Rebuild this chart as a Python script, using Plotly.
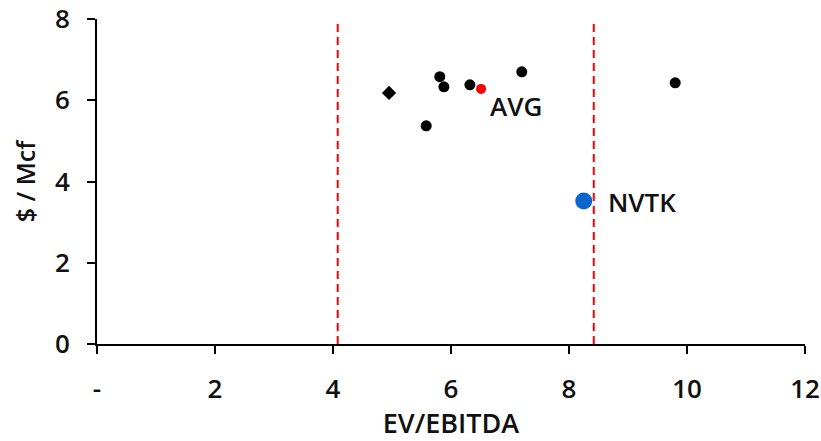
import plotly.graph_objects as go

# Peer companies (EV/EBITDA, $/Mcf)
peer_x = [5.81, 5.88, 5.58, 6.32, 7.20, 9.80]
peer_y = [6.58, 6.33, 5.37, 6.38, 6.70, 6.43]
diamond_x = [4.95]
diamond_y = [6.18]
avg_x = [6.51]
avg_y = [6.28]
nvtk_x = [8.25]
nvtk_y = [3.52]
ref_lines = [4.08, 8.42]
x_ticks = [0, 2, 4, 6, 8, 10, 12]
x_tick_labels = ["-", "2", "4", "6", "8", "10", "12"]
y_ticks = [0, 2, 4, 6, 8]

FONT = "Open Sans"
TXT = "#111111"
W = 600
fig = go.Figure()

for xv in ref_lines:
    fig.add_trace(go.Scatter(x=[xv, xv], y=[0, 8], mode="lines",
                             line=dict(color="#ff0000", width=2, dash="8px,5px"),
                             hoverinfo="skip", showlegend=False))

fig.add_trace(go.Scatter(x=peer_x, y=peer_y, mode="markers",
                         marker=dict(color="black", size=11), showlegend=False))
fig.add_trace(go.Scatter(x=diamond_x, y=diamond_y, mode="markers",
                         marker=dict(color="black", size=11, symbol="diamond"), showlegend=False))
fig.add_trace(go.Scatter(x=avg_x, y=avg_y, mode="markers",
                         marker=dict(color="#ff0000", size=10), showlegend=False))
fig.add_trace(go.Scatter(x=nvtk_x, y=nvtk_y, mode="markers",
                         marker=dict(color="#0a66cc", size=17), showlegend=False))

lab_font = dict(family=FONT, size=26, color=TXT, weight=W)
fig.add_annotation(x=avg_x[0], y=avg_y[0], text="AVG", showarrow=False,
                   xanchor="left", yanchor="middle", xshift=7, yshift=-17, font=lab_font)
fig.add_annotation(x=nvtk_x[0], y=nvtk_y[0], text="NVTK", showarrow=False,
                   xanchor="left", yanchor="middle", xshift=22, yshift=-1, font=lab_font)

fig.update_layout(
    width=821, height=441,
    margin=dict(l=97, r=16, t=19, b=97),
    paper_bgcolor="white", plot_bgcolor="white",
    font=dict(family=FONT, size=24, color=TXT, weight=W),
)
fig.update_xaxes(range=[0, 12], tickvals=x_ticks, ticktext=x_tick_labels, automargin=False,
                 ticklabeloverflow="allow",
                 showgrid=False, zeroline=False, showline=True, linecolor="black", linewidth=2,
                 ticks="outside", ticklen=8, tickwidth=2, tickcolor="black",
                 ticklabelstandoff=13,
                 tickfont=dict(family=FONT, size=26, color=TXT, weight=W),
                 title=dict(text="EV/EBITDA", font=dict(family=FONT, size=27, color=TXT, weight=W), standoff=10))
fig.update_yaxes(range=[0, 8], tickvals=y_ticks, automargin=False,
                 ticklabeloverflow="allow",
                 showgrid=False, zeroline=False, showline=True, linecolor="black", linewidth=2,
                 ticks="outside", ticklen=8, tickwidth=2, tickcolor="black",
                 ticklabelstandoff=12,
                 tickfont=dict(family=FONT, size=26, color=TXT, weight=W),
                 title=dict(text="$ / Mcf", font=dict(family=FONT, size=25, color=TXT, weight=W), standoff=12))

fig.write_html("out.html", config={"displayModeBar": False},
               post_script="document.body.style.margin='0';document.body.style.overflow='hidden';")
